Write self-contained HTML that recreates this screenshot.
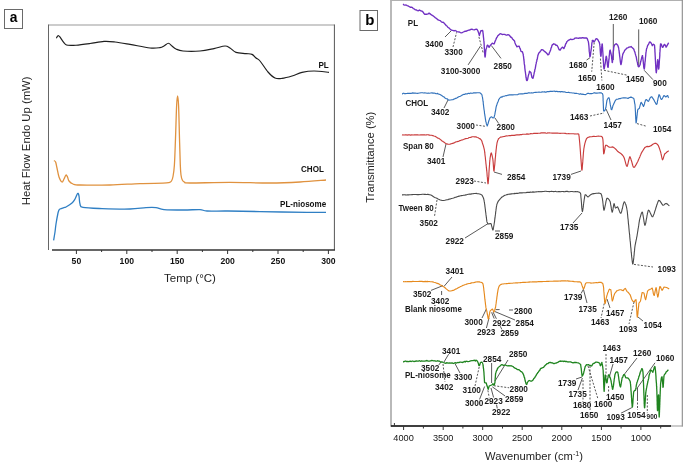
<!DOCTYPE html>
<html><head><meta charset="utf-8"><style>
html,body{margin:0;padding:0;background:#fff;width:685px;height:464px;overflow:hidden}
svg{display:block;font-family:"Liberation Sans", sans-serif;will-change:transform}
</style></head><body>
<svg width="685" height="464" viewBox="0 0 685 464">
<rect width="685" height="464" fill="#fff"/>
<rect x="4.5" y="9.5" width="18" height="19" fill="#fff" stroke="#6a6a6a" stroke-width="1"/>
<text x="13.5" y="22.4" font-size="13.8" font-weight="bold" text-anchor="middle" fill="#000">a</text>
<line x1="48.5" y1="25" x2="334.5" y2="25" stroke="#999" stroke-width="1.2"/><line x1="48.5" y1="24.5" x2="48.5" y2="250" stroke="#666" stroke-width="1"/><line x1="334.4" y1="24.5" x2="334.4" y2="250" stroke="#555" stroke-width="1"/>
<line x1="52" y1="250" x2="335" y2="250" stroke="#333" stroke-width="1.6"/>
<line x1="76.4" y1="250" x2="76.4" y2="254" stroke="#333" stroke-width="1"/>
<text transform="translate(76.4,264.2) scale(0.88,1)" font-size="9.8" font-weight="bold" text-anchor="middle" fill="#111">50</text>
<line x1="101.6" y1="250" x2="101.6" y2="252" stroke="#333" stroke-width="1"/>
<line x1="126.8" y1="250" x2="126.8" y2="254" stroke="#333" stroke-width="1"/>
<text transform="translate(126.8,264.2) scale(0.88,1)" font-size="9.8" font-weight="bold" text-anchor="middle" fill="#111">100</text>
<line x1="152.0" y1="250" x2="152.0" y2="252" stroke="#333" stroke-width="1"/>
<line x1="177.2" y1="250" x2="177.2" y2="254" stroke="#333" stroke-width="1"/>
<text transform="translate(177.2,264.2) scale(0.88,1)" font-size="9.8" font-weight="bold" text-anchor="middle" fill="#111">150</text>
<line x1="202.4" y1="250" x2="202.4" y2="252" stroke="#333" stroke-width="1"/>
<line x1="227.6" y1="250" x2="227.6" y2="254" stroke="#333" stroke-width="1"/>
<text transform="translate(227.6,264.2) scale(0.88,1)" font-size="9.8" font-weight="bold" text-anchor="middle" fill="#111">200</text>
<line x1="252.8" y1="250" x2="252.8" y2="252" stroke="#333" stroke-width="1"/>
<line x1="278.0" y1="250" x2="278.0" y2="254" stroke="#333" stroke-width="1"/>
<text transform="translate(278.0,264.2) scale(0.88,1)" font-size="9.8" font-weight="bold" text-anchor="middle" fill="#111">250</text>
<line x1="303.2" y1="250" x2="303.2" y2="252" stroke="#333" stroke-width="1"/>
<line x1="328.4" y1="250" x2="328.4" y2="254" stroke="#333" stroke-width="1"/>
<text transform="translate(328.4,264.2) scale(0.88,1)" font-size="9.8" font-weight="bold" text-anchor="middle" fill="#111">300</text>
<text x="190" y="282.2" font-size="11.5" text-anchor="middle" fill="#222">Temp (°C)</text>
<text transform="translate(30.2,140.8) rotate(-90)" font-size="11.3" text-anchor="middle" fill="#222">Heat Flow Endo Up (mW)</text>
<path d="M56.40,38.20 C56.57,37.88 57.03,36.72 57.40,36.30 C57.77,35.88 58.18,35.62 58.60,35.70 C59.02,35.78 59.35,36.10 59.90,36.80 C60.45,37.50 61.02,38.68 61.90,39.90 C62.78,41.12 64.18,43.20 65.20,44.10 C66.22,45.00 66.20,45.12 68.00,45.30 C69.80,45.48 72.33,45.50 76.00,45.20 C79.67,44.90 85.33,44.13 90.00,43.50 C94.67,42.87 99.83,41.65 104.00,41.40 C108.17,41.15 110.67,41.50 115.00,42.00 C119.33,42.50 124.17,43.40 130.00,44.40 C135.83,45.40 145.00,47.47 150.00,48.00 C155.00,48.53 157.67,47.93 160.00,47.60 C162.33,47.27 162.60,46.73 164.00,46.00 C165.40,45.27 167.07,43.20 168.40,43.20 C169.73,43.20 170.73,45.03 172.00,46.00 C173.27,46.97 174.17,48.17 176.00,49.00 C177.83,49.83 179.00,50.67 183.00,51.00 C187.00,51.33 194.83,51.40 200.00,51.00 C205.17,50.60 209.83,49.43 214.00,48.60 C218.17,47.77 222.33,46.10 225.00,46.00 C227.67,45.90 228.17,46.93 230.00,48.00 C231.83,49.07 233.33,51.47 236.00,52.40 C238.67,53.33 243.33,53.27 246.00,53.60 C248.67,53.93 250.33,53.67 252.00,54.40 C253.67,55.13 254.67,56.90 256.00,58.00 C257.33,59.10 258.00,58.67 260.00,61.00 C262.00,63.33 265.50,69.17 268.00,72.00 C270.50,74.83 272.67,76.93 275.00,78.00 C277.33,79.07 279.17,78.73 282.00,78.40 C284.83,78.07 288.67,77.00 292.00,76.00 C295.33,75.00 298.33,73.23 302.00,72.40 C305.67,71.57 309.50,71.00 314.00,71.00 C318.50,71.00 326.50,72.17 329.00,72.40" fill="none" stroke="#1e1e1e" stroke-width="1.15" stroke-linejoin="round"/>
<path d="M54.00,160.60 C54.27,160.83 55.10,160.77 55.60,162.00 C56.10,163.23 56.43,165.50 57.00,168.00 C57.57,170.50 58.17,174.67 59.00,177.00 C59.83,179.33 61.17,181.67 62.00,182.00 C62.83,182.33 63.33,180.17 64.00,179.00 C64.67,177.83 65.42,175.33 66.00,175.00 C66.58,174.67 67.00,176.00 67.50,177.00 C68.00,178.00 68.08,179.83 69.00,181.00 C69.92,182.17 71.17,183.33 73.00,184.00 C74.83,184.67 73.83,184.83 80.00,185.00 C86.17,185.17 100.00,185.23 110.00,185.00 C120.00,184.77 131.17,183.90 140.00,183.60 C148.83,183.30 158.17,183.37 163.00,183.20 C167.83,183.03 167.58,182.97 169.00,182.60 C170.42,182.23 170.83,182.02 171.50,181.00 C172.17,179.98 172.52,179.17 173.00,176.50 C173.48,173.83 173.98,171.33 174.40,165.00 C174.82,158.67 175.13,148.33 175.50,138.50 C175.87,128.67 176.25,113.08 176.60,106.00 C176.95,98.92 177.27,96.00 177.60,96.00 C177.93,96.00 178.28,98.92 178.60,106.00 C178.92,113.08 179.22,128.67 179.50,138.50 C179.78,148.33 180.05,158.92 180.30,165.00 C180.55,171.08 180.67,172.50 181.00,175.00 C181.33,177.50 181.72,178.80 182.30,180.00 C182.88,181.20 183.22,181.70 184.50,182.20 C185.78,182.70 182.42,182.97 190.00,183.00 C197.58,183.03 216.67,182.40 230.00,182.40 C243.33,182.40 258.33,183.07 270.00,183.00 C281.67,182.93 290.67,182.50 300.00,182.00 C309.33,181.50 321.67,180.33 326.00,180.00" fill="none" stroke="#e0923f" stroke-width="1.3" stroke-linejoin="round"/>
<path d="M53.60,240.40 C53.83,239.00 54.60,234.73 55.00,232.00 C55.40,229.27 55.50,227.17 56.00,224.00 C56.50,220.83 57.50,215.33 58.00,213.00 C58.50,210.67 58.67,210.67 59.00,210.00 C59.33,209.33 59.17,209.40 60.00,209.00 C60.83,208.60 63.00,207.93 64.00,207.60 C65.00,207.27 64.67,207.77 66.00,207.00 C67.33,206.23 70.50,204.33 72.00,203.00 C73.50,201.67 74.07,200.60 75.00,199.00 C75.93,197.40 76.93,193.90 77.60,193.40 C78.27,192.90 78.60,194.23 79.00,196.00 C79.40,197.77 79.33,202.10 80.00,204.00 C80.67,205.90 79.33,206.63 83.00,207.40 C86.67,208.17 94.17,208.33 102.00,208.60 C109.83,208.87 122.67,209.17 130.00,209.00 C137.33,208.83 141.67,207.83 146.00,207.60 C150.33,207.37 153.00,207.27 156.00,207.60 C159.00,207.93 159.33,209.20 164.00,209.60 C168.67,210.00 178.00,210.00 184.00,210.00 C190.00,210.00 196.17,209.43 200.00,209.60 C203.83,209.77 202.33,210.77 207.00,211.00 C211.67,211.23 219.17,210.90 228.00,211.00 C236.83,211.10 246.83,211.37 260.00,211.60 C273.17,211.83 296.00,212.27 307.00,212.40 C318.00,212.53 322.83,212.40 326.00,212.40" fill="none" stroke="#2f7fc4" stroke-width="1.3" stroke-linejoin="round"/>
<text transform="translate(318.4,67.6) scale(0.92,1)" font-size="8.8" font-weight="bold" fill="#111">PL</text>
<text transform="translate(301,172) scale(0.92,1)" font-size="8.8" font-weight="bold" fill="#111">CHOL</text>
<text transform="translate(280,207.4) scale(0.92,1)" font-size="8.8" font-weight="bold" fill="#111">PL-niosome</text>
<rect x="360" y="10.5" width="17.5" height="20" fill="#fff" stroke="#6a6a6a" stroke-width="1"/>
<text x="369.8" y="25.4" font-size="15" font-weight="bold" text-anchor="middle" fill="#000">b</text>
<line x1="391" y1="0" x2="391" y2="426.5" stroke="#a8a8a8" stroke-width="1.6"/><line x1="390.5" y1="0.5" x2="682.5" y2="0.5" stroke="#b0b0b0" stroke-width="1.2"/><line x1="682.3" y1="0" x2="682.3" y2="426.5" stroke="#8a8a8a" stroke-width="1.1"/><line x1="390.5" y1="426" x2="682.8" y2="426" stroke="#999" stroke-width="1.2"/>
<line x1="391" y1="426" x2="671" y2="426" stroke="#111" stroke-width="1.6"/>
<line x1="403.6" y1="426" x2="403.6" y2="430" stroke="#333" stroke-width="1"/>
<text transform="translate(403.6,441) scale(0.93,1)" font-size="9.9" text-anchor="middle" fill="#151515">4000</text>
<line x1="423.4" y1="426" x2="423.4" y2="428.5" stroke="#333" stroke-width="1"/>
<line x1="443.2" y1="426" x2="443.2" y2="430" stroke="#333" stroke-width="1"/>
<text transform="translate(443.2,441) scale(0.93,1)" font-size="9.9" text-anchor="middle" fill="#151515">3500</text>
<line x1="462.9" y1="426" x2="462.9" y2="428.5" stroke="#333" stroke-width="1"/>
<line x1="482.7" y1="426" x2="482.7" y2="430" stroke="#333" stroke-width="1"/>
<text transform="translate(482.7,441) scale(0.93,1)" font-size="9.9" text-anchor="middle" fill="#151515">3000</text>
<line x1="502.5" y1="426" x2="502.5" y2="428.5" stroke="#333" stroke-width="1"/>
<line x1="522.2" y1="426" x2="522.2" y2="430" stroke="#333" stroke-width="1"/>
<text transform="translate(522.2,441) scale(0.93,1)" font-size="9.9" text-anchor="middle" fill="#151515">2500</text>
<line x1="542.0" y1="426" x2="542.0" y2="428.5" stroke="#333" stroke-width="1"/>
<line x1="561.8" y1="426" x2="561.8" y2="430" stroke="#333" stroke-width="1"/>
<text transform="translate(561.8,441) scale(0.93,1)" font-size="9.9" text-anchor="middle" fill="#151515">2000</text>
<line x1="581.6" y1="426" x2="581.6" y2="428.5" stroke="#333" stroke-width="1"/>
<line x1="601.4" y1="426" x2="601.4" y2="430" stroke="#333" stroke-width="1"/>
<text transform="translate(601.4,441) scale(0.93,1)" font-size="9.9" text-anchor="middle" fill="#151515">1500</text>
<line x1="621.1" y1="426" x2="621.1" y2="428.5" stroke="#333" stroke-width="1"/>
<line x1="640.9" y1="426" x2="640.9" y2="430" stroke="#333" stroke-width="1"/>
<text transform="translate(640.9,441) scale(0.93,1)" font-size="9.9" text-anchor="middle" fill="#151515">1000</text>
<line x1="660.7" y1="426" x2="660.7" y2="428.5" stroke="#333" stroke-width="1"/>
<line x1="394.4" y1="423" x2="394.4" y2="426" stroke="#333" stroke-width="1"/>
<text x="534" y="459.5" font-size="11.2" text-anchor="middle" fill="#222">Wavenumber (cm<tspan font-size="7" dy="-4">-1</tspan><tspan dy="4">)</tspan></text>
<text transform="translate(374,157.2) rotate(-90)" font-size="11.2" text-anchor="middle" fill="#222">Transmittance (%)</text>
<g stroke="#3c3c3c" stroke-width="0.85" fill="none"><line x1="445" y1="37" x2="451" y2="31"/><line x1="468.1" y1="64.9" x2="480.5" y2="46"/><line x1="501" y1="58.4" x2="491.3" y2="45.5"/><line x1="586.6" y1="60" x2="589.9" y2="57.8"/><line x1="613.3" y1="24" x2="613.3" y2="60"/><line x1="638.7" y1="29.4" x2="638.7" y2="67.3"/><line x1="644.2" y1="70.3" x2="653" y2="79.7"/><line x1="444" y1="108" x2="448" y2="100"/><line x1="495" y1="118" x2="499" y2="124"/><line x1="606" y1="109" x2="611" y2="120"/><line x1="443" y1="157" x2="446" y2="144"/><line x1="494" y1="172" x2="502" y2="174.4"/><line x1="571" y1="174.4" x2="581" y2="171"/><line x1="465" y1="238" x2="488" y2="223.6"/><line x1="495" y1="231" x2="500" y2="231"/><line x1="573" y1="223" x2="582" y2="213"/><line x1="452" y1="277" x2="444" y2="286.4"/><line x1="431" y1="290.4" x2="443" y2="285.6"/><line x1="441.6" y1="291" x2="441.6" y2="295"/><line x1="482" y1="318" x2="486.4" y2="309"/><line x1="491.6" y1="312.4" x2="494.2" y2="318.6"/><line x1="495" y1="311.6" x2="515" y2="320"/><line x1="486.4" y1="328" x2="489" y2="318"/><line x1="493" y1="312" x2="496.4" y2="318.8"/><line x1="499.9" y1="325.6" x2="502" y2="329.6"/><line x1="495.6" y1="309.6" x2="499.6" y2="309.6"/><line x1="509" y1="310" x2="513" y2="310"/><line x1="581" y1="293.6" x2="583.6" y2="289"/><line x1="583.6" y1="290" x2="587" y2="303"/><line x1="607" y1="299" x2="610" y2="308"/><line x1="638" y1="317" x2="643" y2="321"/><line x1="449" y1="353.6" x2="444" y2="362"/><line x1="438" y1="366" x2="441" y2="362"/><line x1="455" y1="363.6" x2="460" y2="373"/><line x1="479.5" y1="399.5" x2="484.6" y2="386.5"/><line x1="491.6" y1="363" x2="491.6" y2="383"/><line x1="495" y1="381" x2="508" y2="360"/><line x1="491" y1="388" x2="493.6" y2="397.5"/><line x1="496.4" y1="404.2" x2="497.3" y2="408.5"/><line x1="492.3" y1="386.8" x2="505.1" y2="396"/><line x1="576" y1="379" x2="582" y2="377"/><line x1="582.4" y1="378" x2="578" y2="390"/><line x1="613" y1="364" x2="609" y2="378"/><line x1="637" y1="358" x2="623" y2="376"/><line x1="655" y1="362.8" x2="636.8" y2="388.7"/><line x1="621" y1="413.2" x2="631.9" y2="407.6"/><line x1="637.5" y1="388" x2="637.5" y2="399"/></g><g stroke="#444" stroke-width="0.9" stroke-dasharray="2,1.5" fill="none"><line x1="453" y1="47" x2="456.6" y2="32.4"/><line x1="478.9" y1="36.9" x2="483.2" y2="53"/><line x1="594.2" y1="42.5" x2="591.7" y2="71.7"/><line x1="600.4" y1="58.6" x2="601.9" y2="80.5"/><line x1="604" y1="70.3" x2="628.2" y2="75.4"/><line x1="476" y1="125" x2="486" y2="126.4"/><line x1="590" y1="116" x2="604" y2="113"/><line x1="637" y1="123.6" x2="647" y2="126.4"/><line x1="474" y1="181" x2="486" y2="183"/><line x1="437" y1="200" x2="434.4" y2="217"/><line x1="634" y1="264.4" x2="653" y2="267"/><line x1="605" y1="300" x2="601" y2="318"/><line x1="634" y1="302" x2="629" y2="324"/><line x1="443" y1="364" x2="445" y2="382"/><line x1="475" y1="386" x2="479.4" y2="366"/><line x1="493.8" y1="385.7" x2="509.2" y2="387.8"/><line x1="487.9" y1="390.3" x2="489.2" y2="397.6"/><line x1="583" y1="380" x2="583" y2="402"/><line x1="590" y1="366" x2="590" y2="411"/><line x1="588" y1="366" x2="598" y2="399"/><line x1="606" y1="354" x2="606" y2="378"/><line x1="608.6" y1="386" x2="608.6" y2="393.6"/><line x1="637.5" y1="399" x2="637.5" y2="410"/><line x1="647.3" y1="395" x2="647.3" y2="413.2"/></g>
<path d="M403.1,4.0 L403.8,4.8 L404.9,5.1 L406.1,5.0 L407.2,5.6 L408.0,5.9 L409.0,6.5 L410.2,7.2 L411.5,7.2 L412.5,7.6 L413.3,8.7 L414.3,8.9 L415.5,9.9 L416.6,9.9 L417.4,10.7 L418.4,10.8 L419.4,10.0 L420.4,10.6 L421.1,11.0 L422.0,11.1 L423.0,12.0 L423.9,13.3 L424.5,14.2 L425.9,14.2 L427.1,14.2 L428.1,13.9 L429.1,13.1 L429.8,13.6 L430.8,14.4 L431.9,15.2 L432.7,15.6 L433.3,16.0 L434.2,16.7 L435.1,17.6 L436.0,18.1 L436.8,18.5 L437.4,19.6 L438.3,19.8 L439.2,20.4 L440.3,20.6 L441.4,21.9 L442.4,22.3 L443.2,22.2 L443.9,22.8 L444.6,23.8 L445.4,24.5 L446.2,25.6 L447.0,26.0 L447.8,27.2 L448.5,27.8 L449.0,27.9 L450.0,29.0 L451.1,29.9 L452.1,30.4 L452.9,30.4 L454.1,30.8 L455.2,30.5 L456.2,31.0 L457.0,31.7 L458.1,31.8 L459.4,32.0 L460.5,32.6 L461.3,32.9 L462.2,32.7 L463.3,32.0 L464.4,31.5 L465.4,31.2 L466.3,31.2 L467.4,30.6 L468.7,30.2 L469.9,30.0 L470.8,29.4 L471.8,29.2 L473.0,29.7 L474.3,29.8 L475.4,29.3 L476.2,29.2 L477.1,29.5 L477.8,30.7 L478.3,31.9 L478.7,33.0 L479.1,34.5 L479.4,35.5 L479.7,34.3 L480.0,33.2 L480.4,32.2 L480.7,31.0 L482.6,30.4 L482.7,30.7 L482.9,31.7 L483.0,33.1 L483.1,33.4 L483.3,35.3 L483.4,36.7 L483.6,38.1 L483.7,39.2 L483.8,40.4 L483.9,41.2 L484.0,41.9 L484.0,42.7 L484.1,43.4 L484.2,45.2 L484.2,46.2 L484.3,47.1 L484.4,48.7 L484.5,50.0 L484.5,51.2 L484.6,52.5 L484.7,53.8 L484.8,54.9 L484.8,55.8 L484.9,56.4 L485.0,56.6 L485.0,57.1 L485.1,57.0 L485.2,56.6 L485.4,55.5 L485.5,53.9 L485.6,52.3 L485.8,51.0 L485.9,49.6 L486.2,48.9 L486.7,47.4 L487.1,45.7 L487.5,45.1 L488.2,45.8 L489.1,47.3 L489.8,46.2 L490.7,44.9 L491.6,44.1 L492.3,43.2 L493.9,44.0 L494.2,43.6 L494.5,43.1 L494.9,41.7 L495.4,40.6 L495.8,39.8 L496.3,38.6 L496.6,37.7 L497.1,37.1 L497.8,35.7 L498.6,35.1 L499.3,34.4 L500.0,33.8 L500.9,33.7 L502.1,34.5 L503.5,34.4 L504.7,34.4 L505.6,34.9 L506.8,35.2 L508.0,34.6 L509.1,35.1 L509.7,35.7 L510.6,37.0 L511.6,37.4 L512.5,38.9 L513.4,39.8 L514.0,40.4 L514.5,41.0 L515.0,42.9 L515.5,44.1 L516.0,45.1 L516.5,45.8 L516.8,46.8 L517.9,46.3 L518.9,46.1 L519.3,46.5 L519.7,47.8 L520.2,48.6 L520.6,50.0 L521.0,51.4 L521.6,51.7 L522.4,51.6 L523.1,54.1 L523.2,54.1 L523.3,55.3 L523.4,55.9 L523.5,56.4 L523.6,57.3 L523.7,58.1 L523.9,60.0 L524.0,60.5 L524.2,62.5 L524.3,63.9 L524.5,64.9 L524.7,65.9 L524.8,68.0 L525.0,69.4 L525.1,70.5 L525.3,71.7 L525.5,72.8 L525.6,74.0 L525.8,75.1 L525.9,76.5 L526.0,77.3 L526.2,78.0 L526.3,78.6 L526.4,79.8 L526.5,79.9 L526.6,80.4 L526.9,80.5 L527.2,80.5 L527.6,79.5 L528.0,77.3 L528.3,75.9 L528.7,74.4 L529.0,73.5 L529.3,72.2 L529.5,71.2 L530.9,72.4 L531.2,73.9 L531.6,75.8 L532.0,77.6 L532.5,78.1 L533.0,78.3 L533.1,77.8 L533.3,77.1 L533.4,76.9 L533.6,75.4 L533.8,74.9 L534.1,73.3 L534.3,72.2 L534.6,71.7 L534.8,69.8 L535.1,69.0 L535.4,67.6 L535.6,66.4 L535.9,64.7 L536.2,63.4 L536.4,62.1 L536.7,61.4 L536.9,60.0 L537.2,59.3 L537.4,58.3 L537.6,56.8 L537.7,56.5 L537.9,55.5 L538.4,54.1 L539.0,52.8 L539.6,52.4 L540.3,51.3 L540.9,50.6 L541.5,49.6 L542.1,49.6 L542.7,49.9 L543.4,50.2 L544.3,51.2 L545.2,51.9 L546.2,52.7 L547.1,53.7 L547.8,54.8 L548.4,54.6 L548.8,54.5 L549.2,53.3 L549.7,52.1 L550.1,51.3 L550.6,50.0 L551.1,47.9 L551.5,47.3 L551.9,45.6 L552.3,44.8 L552.6,44.9 L553.6,43.8 L554.8,44.1 L555.9,45.2 L556.8,45.2 L557.3,45.7 L558.0,47.0 L558.6,48.4 L559.1,49.9 L559.6,49.8 L560.2,50.1 L561.1,48.5 L561.8,47.8 L562.4,47.1 L563.1,47.7 L563.8,48.6 L564.1,48.3 L564.4,47.1 L564.9,46.5 L565.4,44.7 L565.9,43.4 L566.4,43.1 L566.9,41.5 L567.3,41.2 L568.2,40.4 L569.4,39.8 L570.7,39.2 L571.9,39.6 L572.9,39.4 L573.8,39.2 L575.0,38.1 L576.2,38.0 L577.4,38.1 L578.5,38.3 L579.3,37.9 L580.3,38.0 L581.5,38.0 L582.7,37.7 L583.9,38.0 L585.1,37.9 L586.0,38.0 L586.6,38.0 L587.3,38.8 L587.8,40.3 L588.2,41.0 L588.5,42.6 L588.6,43.2 L588.7,44.3 L588.8,44.9 L588.9,46.0 L589.0,47.3 L589.1,48.6 L589.2,50.5 L589.3,51.9 L589.5,52.7 L589.6,53.9 L589.7,55.2 L589.8,56.1 L589.8,56.7 L589.9,56.8 L590.1,56.6 L590.3,56.1 L590.5,54.7 L590.6,53.7 L590.8,51.8 L591.0,50.6 L591.1,50.4 L591.2,49.1 L591.4,48.3 L591.5,46.7 L591.7,45.6 L591.8,43.7 L592.0,42.7 L592.2,41.9 L592.3,40.4 L592.4,40.7 L593.1,40.4 L593.9,42.0 L594.5,41.5 L595.3,40.0 L596.0,38.7 L597.1,39.0 L598.2,40.3 L598.7,41.5 L599.3,42.2 L599.7,44.4 L599.8,44.3 L599.9,45.9 L600.0,46.3 L600.1,47.9 L600.2,49.8 L600.3,51.2 L600.4,52.7 L600.5,53.9 L600.6,54.9 L600.7,55.8 L600.8,55.9 L600.9,56.3 L601.0,55.8 L601.1,55.6 L601.2,54.4 L601.3,52.6 L601.4,50.9 L601.5,50.1 L601.6,48.3 L601.8,46.6 L601.9,45.4 L602.0,44.7 L602.1,43.9 L602.2,43.9 L602.2,44.1 L602.3,44.5 L602.4,45.0 L602.4,46.4 L602.5,47.1 L602.6,48.3 L602.6,49.1 L602.7,50.6 L602.8,51.8 L602.9,53.2 L603.0,54.7 L603.1,56.7 L603.1,57.8 L603.2,59.2 L603.3,60.8 L603.4,61.8 L603.5,62.9 L603.6,64.5 L603.6,65.6 L603.7,66.7 L603.8,67.3 L603.9,68.2 L603.9,68.7 L604.0,68.6 L604.1,68.9 L604.3,68.4 L604.5,67.2 L604.7,66.2 L604.9,64.9 L605.2,63.6 L605.4,62.0 L605.6,59.8 L605.8,58.7 L606.0,57.1 L606.2,56.3 L606.3,56.4 L606.4,57.0 L606.6,57.0 L606.7,58.7 L606.9,60.1 L607.1,61.1 L607.3,63.0 L607.4,64.6 L607.6,65.5 L607.7,66.8 L607.9,67.4 L608.0,67.4 L608.1,67.3 L608.2,66.8 L608.3,66.0 L608.4,64.6 L608.5,63.1 L608.7,61.8 L608.8,60.4 L609.0,59.2 L609.1,57.9 L609.2,55.8 L609.4,55.0 L609.5,53.8 L609.6,52.4 L609.7,51.6 L609.8,50.6 L609.9,50.7 L610.2,50.0 L610.5,51.8 L610.9,53.2 L611.2,54.6 L611.4,55.5 L611.6,57.1 L611.7,58.6 L611.9,59.5 L612.1,61.5 L612.2,62.5 L612.4,62.3 L612.5,62.0 L612.5,61.2 L612.6,60.8 L612.7,59.8 L612.8,58.1 L612.9,57.3 L613.0,55.6 L613.1,54.0 L613.2,52.8 L613.4,51.2 L613.5,50.7 L613.6,49.6 L613.7,47.9 L613.8,47.5 L613.9,46.8 L614.7,44.8 L615.7,44.0 L616.5,43.8 L617.0,44.7 L617.6,44.9 L618.2,46.5 L618.7,48.3 L618.8,48.5 L618.9,49.9 L619.1,50.8 L619.2,52.1 L619.3,52.8 L619.5,54.2 L619.6,55.7 L619.8,56.9 L620.0,58.5 L620.1,59.5 L620.3,61.1 L620.4,62.2 L620.6,63.2 L620.7,64.1 L620.8,64.2 L620.9,64.4 L621.0,64.6 L621.2,64.1 L621.4,63.0 L621.6,61.8 L621.8,60.4 L622.0,58.8 L622.2,58.0 L622.4,56.1 L622.6,55.4 L622.8,54.2 L623.0,53.9 L623.4,52.8 L624.1,51.9 L624.7,50.2 L625.5,49.6 L626.1,49.0 L626.7,48.2 L627.7,47.8 L628.9,47.2 L630.2,47.0 L631.1,46.5 L631.8,47.2 L632.6,47.9 L633.4,48.7 L634.0,49.7 L634.3,50.7 L634.6,51.6 L635.0,52.5 L635.3,53.9 L635.6,54.9 L635.9,55.9 L636.2,56.7 L636.4,57.7 L636.6,59.1 L636.9,60.6 L637.2,61.9 L637.5,62.9 L637.7,64.6 L638.0,65.2 L638.2,66.4 L638.4,66.5 L639.2,66.5 L640.1,64.8 L640.3,63.6 L640.5,62.4 L640.8,61.6 L641.1,60.1 L641.5,58.6 L641.8,57.0 L642.1,56.3 L642.3,55.8 L642.5,55.6 L642.6,56.4 L642.7,56.8 L642.9,58.0 L643.0,59.4 L643.1,60.7 L643.3,61.9 L643.4,63.7 L643.6,65.0 L643.7,66.4 L643.8,67.5 L644.0,68.1 L644.1,68.8 L644.2,68.9 L644.3,69.0 L644.4,68.4 L644.5,67.8 L644.6,66.9 L644.7,66.0 L644.8,64.7 L644.9,63.3 L645.0,62.0 L645.2,61.1 L645.3,59.9 L645.4,58.2 L645.6,56.5 L645.7,55.8 L645.8,54.3 L645.9,53.1 L646.1,51.7 L646.2,51.2 L646.3,50.6 L646.4,49.7 L646.7,48.4 L647.1,47.4 L647.6,45.6 L648.1,44.8 L648.6,44.1 L649.1,43.0 L649.5,42.1 L649.8,42.0 L650.4,42.2 L651.1,43.0 L651.8,44.3 L652.3,45.7 L653.4,44.2 L654.5,45.0 L654.6,46.1 L654.6,46.4 L654.7,47.0 L654.7,47.9 L654.8,49.1 L654.9,49.6 L654.9,51.1 L655.0,52.4 L655.1,53.7 L655.1,54.5 L655.2,56.1 L655.3,57.2 L655.3,58.8 L655.4,59.8 L655.5,61.7 L655.6,63.1 L655.6,63.9 L655.7,65.1 L655.8,66.9 L655.8,67.8 L655.9,69.0 L655.9,69.2 L656.0,70.8 L656.1,71.2 L656.1,71.5 L656.2,72.1 L656.2,72.6 L656.3,72.8 L656.4,71.8 L656.5,71.4 L656.7,69.7 L656.8,69.0 L657.0,66.9 L657.1,65.7 L657.3,64.0 L657.4,62.4 L657.5,61.0 L657.6,60.4 L657.7,59.7 L657.8,60.0 L658.0,61.7 L658.1,63.0 L658.2,65.2 L658.4,66.5 L658.5,68.3 L658.7,69.1 L658.8,68.6 L658.8,68.1 L658.9,67.9 L659.0,67.3 L659.0,66.1 L659.1,65.3 L659.2,64.1 L659.2,63.4 L659.3,62.4 L659.4,60.5 L659.5,59.0 L659.6,58.2 L659.7,56.9 L659.8,55.6 L659.8,53.9 L659.9,52.3 L660.0,51.4 L660.1,49.5 L660.2,48.8 L660.3,47.2 L660.3,46.5 L660.4,45.7 L660.5,44.9 L660.5,44.1 L660.6,43.8 L661.0,43.8 L661.5,44.8 L662.1,46.8 L662.5,47.3 L663.0,47.2 L663.6,45.7 L664.2,44.7 L664.7,44.4 L665.1,45.2 L665.6,45.8 L666.1,47.2 L666.5,46.7 L667.2,45.3 L667.9,44.1 L668.4,43.2 L668.8,42.9" fill="none" stroke="#7030c2" stroke-width="1.35" stroke-linejoin="round"/>
<path d="M402.0,93.9 L402.4,93.9 L403.0,93.3 L403.8,93.2 L404.6,93.7 L405.6,93.6 L406.7,93.5 L407.8,93.2 L409.0,93.4 L410.2,93.3 L411.5,93.3 L412.7,92.9 L413.9,93.1 L415.1,93.0 L416.3,93.2 L417.4,93.4 L418.3,93.3 L419.2,93.0 L420.0,93.0 L420.8,92.8 L421.6,92.7 L422.6,92.7 L423.6,93.0 L424.8,92.9 L425.9,93.0 L427.1,93.3 L428.3,93.1 L429.5,93.2 L430.7,93.0 L431.9,92.9 L433.0,93.1 L434.1,93.0 L435.1,93.3 L436.0,93.7 L436.8,93.6 L437.5,93.3 L438.0,93.9 L439.3,94.2 L440.5,94.7 L441.6,95.5 L442.5,96.1 L443.3,96.7 L444.0,96.9 L444.9,97.9 L446.0,98.6 L447.1,98.8 L448.2,99.8 L449.0,100.2 L449.8,100.0 L450.8,100.0 L451.8,99.7 L452.9,99.7 L454.0,99.0 L454.6,99.0 L455.3,98.3 L456.2,98.3 L457.2,97.8 L458.3,97.0 L459.3,96.5 L460.4,96.2 L461.5,95.6 L462.4,95.0 L463.3,94.5 L464.0,94.3 L464.9,94.3 L465.9,93.7 L467.1,94.0 L468.3,93.3 L469.5,93.6 L470.7,93.0 L471.8,93.3 L472.8,93.1 L473.6,92.9 L474.6,92.9 L475.9,92.9 L477.2,92.8 L478.5,92.7 L479.8,92.8 L480.8,93.4 L481.5,94.3 L481.8,94.6 L482.0,95.0 L482.2,96.4 L482.5,97.4 L482.7,98.8 L482.8,99.5 L483.0,101.2 L483.2,102.1 L483.3,103.8 L483.4,104.7 L483.6,105.8 L483.7,107.2 L483.8,107.4 L483.9,108.6 L484.1,109.8 L484.2,110.5 L484.4,111.6 L484.5,113.3 L484.7,114.2 L484.9,115.6 L485.0,116.2 L485.2,117.4 L485.3,118.1 L485.4,119.1 L485.6,119.7 L485.8,121.6 L486.1,122.2 L486.4,123.9 L486.7,124.5 L487.0,125.4 L487.2,126.0 L487.5,125.2 L487.8,124.4 L488.1,123.6 L488.5,122.0 L488.9,120.5 L489.2,120.1 L489.5,118.8 L490.2,117.6 L491.0,117.0 L491.7,116.8 L492.8,117.9 L494.0,117.6 L494.2,117.3 L494.3,116.3 L494.5,115.6 L494.8,114.7 L495.0,113.4 L495.2,112.2 L495.5,110.8 L495.7,109.6 L495.9,108.4 L496.1,107.2 L496.3,106.3 L496.6,105.6 L497.0,104.3 L497.4,102.9 L497.9,101.9 L498.3,101.0 L498.8,99.4 L499.3,98.9 L499.7,98.1 L500.3,97.6 L501.1,96.9 L502.1,97.1 L503.1,96.3 L504.2,96.2 L505.4,95.8 L506.0,95.5 L506.7,95.7 L507.5,95.3 L508.5,95.1 L509.5,94.9 L510.6,94.9 L511.7,94.7 L512.9,94.9 L514.1,94.7 L515.3,94.8 L516.6,94.7 L517.8,94.6 L518.9,93.9 L520.0,94.0 L520.6,93.8 L521.3,93.9 L522.0,93.9 L522.9,93.9 L523.8,93.8 L524.8,93.4 L525.8,93.4 L526.9,93.4 L528.0,92.9 L529.2,92.8 L530.4,93.0 L531.6,92.7 L532.9,93.0 L534.1,92.5 L535.4,92.3 L536.6,92.3 L537.8,92.2 L539.0,92.1 L540.2,92.2 L541.3,92.1 L542.4,91.9 L543.4,92.0 L544.3,91.7 L545.2,92.1 L546.1,92.1 L546.8,91.8 L547.4,91.6 L548.0,91.6 L549.1,91.6 L550.2,91.2 L551.3,91.4 L552.3,91.4 L553.2,91.2 L554.2,91.1 L555.1,91.6 L556.1,91.3 L557.0,91.4 L558.0,91.8 L559.0,91.6 L560.0,91.5 L560.6,92.0 L561.3,91.6 L562.1,91.5 L563.0,92.0 L564.0,91.7 L565.1,92.0 L566.2,92.5 L567.4,92.5 L568.6,92.2 L569.8,92.7 L571.1,92.8 L572.4,93.0 L573.6,93.0 L574.9,93.4 L576.1,93.2 L577.3,93.5 L578.4,93.7 L579.5,94.2 L580.5,93.7 L581.4,94.3 L582.2,94.0 L582.9,94.4 L583.5,94.3 L584.0,94.4 L585.7,94.6 L586.4,94.1 L587.0,93.6 L588.0,93.3 L588.6,93.3 L589.5,93.7 L590.5,93.5 L591.7,93.6 L593.0,93.3 L594.3,92.7 L595.7,93.1 L597.0,93.1 L598.3,93.0 L599.5,92.8 L600.5,92.8 L601.3,92.9 L601.8,93.3 L602.4,93.5 L602.8,94.6 L603.0,95.7 L603.0,97.3 L603.1,98.5 L603.1,99.8 L603.1,100.7 L603.2,101.1 L603.2,102.1 L603.3,103.6 L603.3,104.7 L603.4,106.2 L603.4,107.8 L603.5,109.2 L603.5,110.0 L603.6,111.0 L603.7,110.9 L604.3,111.0 L605.1,110.2 L605.7,108.1 L605.9,107.5 L606.1,106.1 L606.3,104.8 L606.4,104.0 L606.6,102.7 L606.8,101.4 L607.0,100.2 L607.6,99.0 L608.4,97.7 L609.0,97.7 L609.2,98.3 L609.5,99.3 L609.7,100.9 L609.9,102.0 L610.1,103.4 L610.3,104.7 L610.5,105.8 L610.8,106.8 L611.0,108.4 L611.3,109.5 L611.5,109.6 L611.8,109.7 L612.2,108.3 L612.6,107.0 L613.0,105.4 L613.4,104.7 L613.8,103.7 L614.4,102.4 L615.1,100.9 L615.7,100.1 L616.3,99.2 L617.1,99.2 L618.2,99.1 L619.3,98.5 L620.2,98.6 L621.1,98.3 L622.2,98.0 L623.2,97.9 L624.1,97.9 L625.3,97.9 L626.8,98.0 L628.0,98.5 L629.0,97.7 L630.0,97.4 L630.9,97.1 L631.8,97.4 L633.0,98.0 L633.8,98.4 L634.0,99.3 L634.2,100.0 L634.4,101.3 L634.6,102.8 L634.8,103.8 L635.0,104.7 L635.1,106.3 L635.2,107.1 L635.2,108.1 L635.3,108.9 L635.3,110.2 L635.4,110.9 L635.5,113.0 L635.5,114.2 L635.6,115.5 L635.7,117.1 L635.7,118.4 L635.8,119.1 L635.9,120.6 L635.9,121.5 L636.0,121.9 L636.0,122.7 L636.1,122.9 L636.2,122.5 L636.3,122.4 L636.4,121.0 L636.6,120.2 L636.7,118.7 L636.9,117.1 L637.0,115.8 L637.2,114.3 L637.3,112.7 L637.5,112.1 L637.6,110.5 L637.7,109.9 L638.4,108.9 L639.2,108.5 L639.5,107.7 L639.8,106.6 L640.2,105.1 L640.5,104.0 L640.9,102.8 L641.2,102.3 L641.7,103.0 L642.3,104.1 L643.0,105.5 L643.5,106.5 L643.8,105.6 L644.1,105.1 L644.5,103.9 L644.8,102.2 L645.2,101.2 L645.5,100.2 L645.8,99.8 L646.6,99.6 L647.5,100.8 L648.3,101.4 L648.8,100.8 L649.4,99.5 L650.1,97.9 L650.7,97.2 L651.2,96.9 L651.9,96.9 L652.7,98.2 L653.6,99.4 L654.2,100.5 L654.8,101.8 L655.5,102.9 L656.2,104.3 L656.7,104.4 L656.9,103.9 L657.2,103.3 L657.4,101.4 L657.7,100.5 L658.0,98.6 L658.3,97.4 L658.6,96.3 L658.8,95.3 L659.0,94.6 L659.4,95.2 L659.9,95.8 L660.4,97.7 L660.9,98.8 L661.3,99.5 L661.9,99.2 L662.6,98.0 L663.4,96.5 L663.9,95.6 L664.9,96.1 L665.8,97.0 L666.8,96.1 L667.7,95.5 L668.3,97.2 L668.7,97.9" fill="none" stroke="#3272bb" stroke-width="1.15" stroke-linejoin="round"/>
<path d="M402.0,134.9 L402.4,135.0 L403.0,134.9 L403.6,135.0 L404.4,135.0 L405.2,134.8 L406.1,134.8 L407.2,135.1 L408.2,134.8 L409.4,134.8 L410.6,135.1 L411.8,134.9 L413.1,135.0 L414.4,134.9 L415.6,134.9 L417.0,134.7 L418.2,134.9 L419.5,135.0 L420.8,134.9 L422.0,134.9 L423.2,134.9 L424.3,134.7 L425.4,135.0 L426.4,134.9 L427.3,134.8 L428.1,134.7 L428.9,135.1 L429.5,135.0 L430.0,135.1 L431.5,135.3 L432.8,135.6 L433.9,136.0 L434.9,136.2 L435.8,136.8 L436.6,137.1 L437.3,137.8 L438.0,138.2 L438.7,138.3 L439.6,138.9 L440.6,139.6 L441.6,140.7 L442.7,141.3 L443.7,142.1 L444.6,142.6 L445.4,143.3 L446.0,143.6 L447.0,143.9 L447.9,144.2 L448.9,144.2 L450.0,144.2 L450.6,143.9 L451.4,143.8 L452.4,143.4 L453.4,143.1 L454.6,142.6 L455.8,141.9 L456.9,141.8 L458.1,141.4 L459.1,141.1 L460.0,140.6 L460.7,140.5 L461.5,140.0 L462.4,139.9 L463.5,139.5 L464.6,139.0 L465.7,138.6 L466.9,138.5 L468.1,138.2 L469.2,137.5 L470.3,137.5 L471.3,137.1 L472.2,136.8 L473.0,136.7 L473.6,136.8 L474.7,136.9 L475.9,136.8 L477.2,137.5 L478.3,137.8 L479.4,138.6 L480.3,138.9 L480.9,139.6 L481.6,140.5 L482.0,141.5 L482.4,143.0 L482.7,143.9 L482.9,144.5 L483.2,145.4 L483.4,146.0 L483.7,147.1 L484.0,148.3 L484.3,149.5 L484.5,150.7 L484.6,151.2 L484.7,152.2 L484.8,152.8 L484.9,154.0 L485.0,154.9 L485.1,155.8 L485.3,157.0 L485.4,158.3 L485.5,159.5 L485.7,160.8 L485.8,162.0 L485.9,163.3 L486.1,164.7 L486.2,165.7 L486.3,166.8 L486.4,168.0 L486.6,168.8 L486.6,169.7 L486.7,170.7 L486.8,171.2 L486.9,172.3 L487.0,173.3 L487.1,174.9 L487.2,176.4 L487.4,177.7 L487.5,179.4 L487.6,180.7 L487.7,181.7 L487.8,182.8 L487.9,183.4 L488.0,183.8 L488.1,183.5 L488.2,183.4 L488.2,183.0 L488.3,182.1 L488.3,181.3 L488.4,180.7 L488.5,179.7 L488.6,178.3 L488.7,177.2 L488.8,176.0 L488.9,174.5 L488.9,173.2 L489.0,171.8 L489.1,170.4 L489.2,169.1 L489.3,167.6 L489.4,166.3 L489.5,165.2 L489.6,163.8 L489.6,162.9 L489.7,162.0 L489.8,161.0 L489.8,160.2 L489.9,159.9 L490.1,158.0 L490.4,156.3 L490.6,155.0 L490.9,154.0 L491.1,153.1 L491.3,152.9 L491.5,153.3 L491.8,154.4 L492.1,155.6 L492.4,157.2 L492.7,158.4 L492.9,159.7 L493.0,160.6 L493.1,161.8 L493.2,162.9 L493.3,164.3 L493.4,165.7 L493.5,167.3 L493.6,168.5 L493.7,169.9 L493.8,170.8 L493.9,171.0 L494.0,171.1 L494.1,171.1 L494.1,170.5 L494.2,169.9 L494.3,168.9 L494.4,167.8 L494.5,166.8 L494.6,165.8 L494.8,164.3 L494.9,163.0 L495.0,161.7 L495.1,160.4 L495.2,159.0 L495.3,158.0 L495.5,156.5 L495.6,155.3 L495.6,154.7 L495.7,153.8 L495.8,153.2 L495.9,152.0 L496.0,151.1 L496.1,149.9 L496.3,148.5 L496.4,147.5 L496.5,146.3 L496.7,145.1 L496.9,144.0 L497.0,143.0 L497.2,142.3 L497.4,141.6 L497.7,140.6 L498.1,139.8 L498.5,138.7 L499.3,138.1 L500.4,137.1 L502.0,136.9 L502.5,136.7 L503.0,136.7 L503.7,136.5 L504.5,136.4 L505.3,136.2 L506.2,135.8 L507.2,136.0 L508.3,135.7 L509.4,135.6 L510.5,135.6 L511.7,135.4 L512.9,135.3 L514.2,135.4 L515.4,135.1 L516.7,134.9 L517.9,134.7 L519.2,134.9 L520.4,134.6 L521.6,134.6 L522.8,134.3 L523.9,134.2 L525.0,134.2 L526.0,134.3 L527.0,133.9 L527.8,134.1 L528.7,134.1 L529.4,134.0 L530.0,133.9 L530.9,133.5 L531.9,133.7 L532.8,133.7 L533.8,133.3 L534.8,133.4 L535.9,133.3 L536.9,133.3 L537.9,133.3 L539.0,133.2 L540.1,133.3 L541.1,132.9 L542.1,132.9 L543.2,132.9 L544.2,132.9 L545.2,132.8 L546.1,133.2 L547.1,133.1 L548.0,132.8 L548.6,133.0 L549.3,132.9 L550.2,133.0 L551.1,133.0 L552.0,133.1 L553.0,133.1 L554.1,133.1 L555.3,133.0 L556.4,133.1 L557.6,133.1 L558.9,133.3 L560.1,133.4 L561.4,133.3 L562.7,133.2 L563.9,133.3 L565.2,133.4 L566.4,133.6 L567.6,133.7 L568.7,133.6 L569.8,133.8 L570.9,133.7 L571.8,133.7 L572.8,133.7 L573.6,133.8 L574.3,134.0 L575.0,133.9 L575.6,134.0 L576.0,134.0 L578.3,133.9 L578.8,134.2 L579.0,136.1 L579.1,136.3 L579.2,137.0 L579.2,137.7 L579.3,138.7 L579.4,139.6 L579.5,140.4 L579.6,141.7 L579.7,142.8 L579.8,143.8 L579.9,145.1 L580.0,146.2 L580.1,147.8 L580.2,149.0 L580.3,150.4 L580.4,151.6 L580.5,152.8 L580.5,154.0 L580.6,155.0 L580.7,155.9 L580.8,157.1 L580.8,157.8 L580.9,158.6 L581.0,159.5 L581.0,159.8 L581.1,161.1 L581.2,162.5 L581.3,164.3 L581.4,165.5 L581.5,166.8 L581.6,168.4 L581.7,169.1 L581.8,170.0 L581.9,170.2 L582.0,170.1 L582.1,169.9 L582.1,169.3 L582.2,168.8 L582.3,167.7 L582.3,167.1 L582.4,166.0 L582.5,165.0 L582.6,163.6 L582.7,162.6 L582.8,161.4 L582.9,159.7 L583.0,158.5 L583.1,157.2 L583.2,156.0 L583.3,154.5 L583.4,153.3 L583.5,152.1 L583.6,151.2 L583.7,150.3 L583.8,149.3 L583.9,148.5 L584.0,148.0 L584.2,146.8 L584.4,145.6 L584.7,144.3 L584.9,143.3 L585.2,142.3 L585.6,141.0 L585.9,140.2 L586.3,139.1 L586.6,138.6 L587.0,138.1 L587.6,137.6 L588.5,137.2 L589.6,136.9 L590.8,136.8 L592.0,136.7 L593.2,136.3 L594.2,136.3 L595.0,136.5 L595.9,136.5 L597.1,136.2 L598.3,136.1 L599.6,136.2 L600.8,136.2 L601.8,136.6 L602.4,137.3 L602.6,137.9 L602.7,138.6 L602.9,139.5 L603.0,140.8 L603.1,142.1 L603.2,143.2 L603.2,144.8 L603.3,146.0 L603.3,147.6 L603.4,148.9 L603.4,150.0 L603.5,151.1 L603.5,152.0 L603.6,153.0 L603.6,153.5 L603.7,153.8 L603.8,153.8 L604.0,153.2 L604.3,152.3 L604.5,150.7 L604.7,149.6 L605.0,147.9 L605.2,146.7 L605.5,145.6 L605.7,145.2 L606.6,145.3 L607.9,146.3 L609.0,147.1 L609.9,147.2 L611.2,147.2 L612.4,146.9 L613.4,147.2 L614.1,147.8 L614.9,148.4 L615.8,149.2 L616.6,150.1 L617.3,151.0 L618.2,151.7 L619.3,152.6 L620.4,153.3 L621.2,153.8 L621.9,154.5 L622.7,155.4 L623.5,156.5 L624.1,157.8 L624.4,158.5 L624.7,159.6 L625.0,160.6 L625.4,162.2 L625.7,163.3 L626.1,164.6 L626.4,165.7 L626.7,166.1 L627.0,166.3 L627.2,166.3 L627.5,165.4 L627.8,164.3 L628.1,163.1 L628.4,161.7 L628.8,160.0 L629.1,158.9 L629.4,157.8 L629.7,157.1 L629.9,156.7 L630.2,157.1 L630.5,157.9 L630.8,158.7 L631.2,160.0 L631.6,161.2 L632.0,162.6 L632.3,164.0 L632.6,164.7 L632.8,165.7 L633.5,167.2 L634.2,167.2 L634.6,167.1 L635.2,166.0 L635.8,165.1 L636.5,163.9 L637.2,162.5 L637.7,161.7 L638.0,161.0 L638.4,160.1 L638.9,158.9 L639.3,157.9 L639.8,156.9 L640.3,155.6 L640.8,154.5 L641.2,153.4 L641.5,152.9 L642.0,151.9 L642.7,150.9 L643.4,149.7 L644.1,148.6 L644.8,147.6 L645.4,147.2 L646.2,146.8 L647.2,146.4 L648.4,146.6 L649.5,146.4 L650.3,145.9 L651.1,145.8 L652.2,144.8 L653.3,144.1 L654.4,143.6 L655.1,143.2 L656.1,143.4 L657.2,144.2 L658.0,145.1 L658.3,145.6 L658.7,146.5 L659.1,147.5 L659.6,148.9 L660.0,150.1 L660.3,151.1 L660.6,152.0 L660.8,152.7 L661.0,153.7 L661.3,155.0 L661.6,156.5 L661.8,157.4 L662.1,158.6 L662.3,159.3 L662.5,159.8 L662.8,159.4 L663.2,158.5 L663.6,157.2 L664.0,155.9 L664.4,154.8 L664.8,153.8 L665.7,153.2 L666.9,152.0 L668.0,151.3 L668.7,150.7" fill="none" stroke="#c93c3c" stroke-width="1.15" stroke-linejoin="round"/>
<path d="M402.0,194.9 L402.4,194.9 L403.0,194.9 L403.6,194.8 L404.4,194.8 L405.3,194.9 L406.3,195.0 L407.4,194.9 L408.5,194.9 L409.7,194.7 L410.9,194.7 L412.1,194.6 L413.4,194.5 L414.7,194.5 L416.0,194.5 L417.3,194.6 L418.6,194.6 L419.9,194.5 L421.1,194.5 L422.2,194.3 L423.3,194.3 L424.4,194.4 L425.3,194.4 L426.1,194.5 L426.9,194.5 L427.5,194.3 L428.0,194.4 L429.6,194.7 L430.9,195.0 L431.8,195.4 L432.5,196.1 L433.2,196.5 L434.0,197.1 L434.7,197.4 L435.7,197.8 L436.8,198.2 L438.0,199.0 L439.2,199.4 L440.3,200.0 L441.3,200.3 L442.0,200.4 L442.9,200.5 L443.8,200.5 L444.8,200.3 L445.9,200.0 L446.9,199.8 L448.0,199.7 L448.6,199.3 L449.4,199.1 L450.3,199.0 L451.4,198.5 L452.5,198.3 L453.6,197.9 L454.8,197.4 L456.0,197.3 L457.1,196.7 L458.2,196.4 L459.2,196.1 L460.0,196.0 L460.7,195.8 L461.6,195.6 L462.6,195.5 L463.7,195.2 L464.8,195.1 L466.0,194.9 L467.2,194.5 L468.4,194.3 L469.6,194.1 L470.7,194.1 L471.7,193.9 L472.6,193.7 L473.4,193.6 L474.0,193.5 L475.1,193.5 L476.3,193.4 L477.4,193.7 L478.5,193.8 L479.5,194.0 L480.4,194.2 L481.0,194.5 L481.6,194.7 L482.1,195.4 L482.7,196.4 L483.2,197.4 L483.6,198.5 L484.0,200.1 L484.1,200.6 L484.2,201.3 L484.3,201.9 L484.5,202.8 L484.6,203.9 L484.8,204.8 L484.9,206.1 L485.1,207.5 L485.2,208.5 L485.4,209.7 L485.5,211.0 L485.7,212.3 L485.9,213.8 L486.0,214.9 L486.2,216.1 L486.3,217.2 L486.5,218.5 L486.6,219.3 L486.7,220.1 L486.8,220.8 L486.9,221.4 L487.0,221.9 L488.0,224.0 L489.0,223.9 L490.0,223.5 L491.0,223.6 L491.3,224.3 L491.6,225.9 L492.0,227.2 L492.4,228.8 L492.7,229.9 L493.0,230.0 L493.1,229.8 L493.3,229.1 L493.4,228.2 L493.6,227.2 L493.8,226.0 L494.0,224.9 L494.2,223.5 L494.4,222.4 L494.6,221.2 L494.7,219.9 L494.9,218.7 L495.0,217.9 L495.1,217.2 L495.2,216.3 L495.3,215.3 L495.5,214.4 L495.6,213.1 L495.7,211.9 L495.9,210.9 L496.0,209.6 L496.2,208.6 L496.3,207.3 L496.5,206.4 L496.7,205.4 L496.8,204.7 L497.0,204.1 L497.4,203.0 L497.9,201.9 L498.5,200.9 L499.2,200.1 L500.0,199.2 L500.7,198.4 L501.4,197.5 L502.0,197.0 L502.6,196.7 L503.3,196.2 L504.0,195.8 L504.9,195.3 L505.9,195.0 L507.1,194.6 L508.4,194.2 L510.0,194.1 L510.5,194.1 L511.1,193.7 L511.8,193.9 L512.5,193.8 L513.4,193.7 L514.3,193.4 L515.2,193.6 L516.3,193.2 L517.3,193.4 L518.5,193.2 L519.6,192.9 L520.8,192.9 L522.0,192.9 L523.2,192.8 L524.5,192.7 L525.7,192.7 L527.0,192.4 L528.2,192.2 L529.4,192.4 L530.6,192.1 L531.8,192.2 L532.9,191.9 L534.0,192.1 L535.1,192.0 L536.1,191.9 L537.0,191.8 L537.9,191.8 L538.7,191.6 L539.4,191.7 L540.0,191.5 L540.9,191.7 L541.9,191.6 L542.9,191.5 L543.9,191.5 L544.9,191.3 L546.0,191.3 L547.1,191.5 L548.2,191.5 L549.4,191.6 L550.5,191.5 L551.6,191.4 L552.7,191.5 L553.7,191.6 L554.8,191.5 L555.8,191.4 L556.7,191.7 L557.6,191.7 L558.5,191.5 L559.3,191.6 L560.0,191.6 L560.8,191.7 L561.7,191.5 L562.6,191.5 L563.7,191.6 L564.8,191.7 L566.0,191.4 L567.2,191.4 L568.4,191.6 L569.7,191.7 L570.9,191.5 L572.1,191.5 L573.3,191.7 L574.4,191.7 L575.4,191.5 L576.3,191.8 L577.2,191.6 L577.9,191.7 L578.5,192.0 L579.0,192.0 L580.0,192.6 L580.5,193.3 L580.8,194.5 L580.8,195.5 L580.9,196.7 L581.0,198.0 L581.1,198.6 L581.2,199.7 L581.3,200.9 L581.4,202.2 L581.5,203.4 L581.6,205.0 L581.7,206.5 L581.8,207.9 L582.0,209.2 L582.1,210.2 L582.2,210.9 L582.3,211.4 L582.4,211.7 L582.5,211.3 L582.6,210.9 L582.8,210.2 L582.9,209.1 L583.1,208.0 L583.3,206.7 L583.4,205.2 L583.6,203.9 L583.8,202.3 L584.0,201.0 L584.2,199.5 L584.4,198.4 L584.6,197.2 L584.7,196.2 L584.9,195.4 L585.0,194.9 L585.9,194.9 L587.0,196.1 L588.0,197.0 L588.6,196.6 L589.3,195.9 L590.2,195.1 L591.1,194.6 L592.0,193.9 L592.7,193.9 L593.8,193.6 L595.0,193.5 L596.3,193.3 L597.6,193.2 L598.8,193.0 L599.7,193.2 L600.4,193.5 L601.0,193.8 L601.4,194.8 L601.8,195.8 L602.0,197.1 L602.3,198.2 L602.5,199.3 L602.6,200.3 L602.8,201.4 L602.9,202.7 L603.1,204.2 L603.2,205.7 L603.4,206.9 L603.5,208.3 L603.7,209.3 L603.8,210.0 L604.0,210.3 L604.2,210.0 L604.3,209.5 L604.6,208.3 L604.8,207.3 L605.1,206.0 L605.4,204.7 L605.7,203.2 L605.9,201.9 L606.2,200.5 L606.5,199.6 L606.7,198.7 L606.9,198.3 L607.6,198.3 L608.5,199.0 L609.4,200.2 L610.1,201.5 L610.3,202.2 L610.5,203.4 L610.7,204.7 L611.0,206.1 L611.2,207.4 L611.4,208.9 L611.7,210.3 L611.9,211.2 L612.0,212.0 L612.2,212.2 L612.4,211.9 L612.6,211.1 L612.9,209.9 L613.1,208.3 L613.4,206.7 L613.6,205.4 L613.8,204.3 L614.0,203.6 L614.3,204.0 L614.7,205.7 L615.1,207.2 L615.5,208.1 L616.5,207.4 L617.6,206.8 L617.9,207.4 L618.4,208.5 L618.9,209.8 L619.5,211.4 L620.0,212.6 L620.5,213.3 L620.9,213.3 L621.1,212.9 L621.4,212.2 L621.7,211.3 L622.0,209.7 L622.4,208.5 L622.7,207.0 L623.0,205.5 L623.3,204.3 L623.6,203.1 L623.9,202.4 L624.1,201.9 L624.4,201.9 L624.9,202.4 L625.3,203.4 L625.8,204.5 L626.2,205.8 L626.6,207.7 L626.9,209.0 L627.0,209.7 L627.1,210.3 L627.2,211.0 L627.3,211.8 L627.4,212.8 L627.5,213.8 L627.6,214.7 L627.7,215.8 L627.8,217.0 L627.9,218.1 L628.1,219.3 L628.2,220.5 L628.3,221.6 L628.4,223.1 L628.5,224.2 L628.7,225.3 L628.8,226.6 L628.9,228.0 L629.0,228.9 L629.1,230.1 L629.2,231.2 L629.3,232.2 L629.4,233.0 L629.5,233.9 L629.6,234.6 L629.7,235.2 L629.7,236.4 L629.8,237.1 L629.9,238.4 L630.0,239.2 L630.1,240.4 L630.3,241.8 L630.4,243.0 L630.5,244.1 L630.6,245.5 L630.7,246.8 L630.9,248.2 L631.0,249.4 L631.1,250.9 L631.2,252.2 L631.4,253.4 L631.5,254.7 L631.6,255.9 L631.7,256.9 L631.9,258.1 L632.0,259.2 L632.1,260.1 L632.2,260.8 L632.3,261.7 L632.4,262.5 L632.5,262.9 L632.6,263.5 L632.6,263.9 L632.7,264.0 L632.8,264.0 L632.9,263.9 L633.1,263.3 L633.2,262.7 L633.3,261.7 L633.5,260.5 L633.6,259.4 L633.8,257.9 L633.9,256.4 L634.1,255.1 L634.2,253.6 L634.3,252.2 L634.5,250.9 L634.6,249.6 L634.7,248.5 L634.8,247.5 L634.9,246.8 L635.0,246.0 L635.2,244.9 L635.4,243.8 L635.6,243.0 L635.8,241.9 L636.0,240.9 L636.2,239.9 L636.5,238.8 L636.6,237.8 L636.8,236.8 L637.0,236.1 L637.1,235.5 L637.2,234.6 L637.4,233.5 L637.5,232.7 L637.7,231.6 L637.9,230.3 L638.1,228.9 L638.3,227.9 L638.5,226.6 L638.7,225.4 L638.9,224.0 L639.0,223.1 L639.2,221.8 L639.4,221.0 L639.5,220.0 L639.7,219.3 L639.8,218.9 L640.1,217.6 L640.5,216.3 L640.9,214.8 L641.3,213.6 L641.7,212.8 L642.1,212.1 L642.4,212.3 L642.6,212.8 L642.7,213.5 L642.9,214.5 L643.1,215.6 L643.3,217.0 L643.6,218.5 L643.8,220.0 L644.0,221.3 L644.2,222.5 L644.4,223.6 L644.6,224.7 L644.8,225.3 L645.0,225.2 L645.2,225.2 L645.3,224.5 L645.5,223.8 L645.8,222.8 L646.0,221.4 L646.2,220.2 L646.5,218.7 L646.8,217.3 L647.0,215.7 L647.3,214.4 L647.5,213.2 L647.8,212.3 L648.0,211.1 L648.2,210.6 L648.4,210.1 L648.9,210.4 L649.5,211.1 L650.1,212.5 L650.9,214.2 L651.6,215.8 L652.2,216.6 L652.8,216.7 L653.0,216.3 L653.3,215.6 L653.6,214.9 L654.0,214.0 L654.3,213.1 L654.7,211.7 L655.1,210.5 L655.5,209.4 L655.9,207.8 L656.3,206.8 L656.7,205.3 L657.1,204.2 L657.5,203.2 L657.8,202.3 L658.1,201.3 L658.4,201.0 L658.6,200.4 L659.3,200.5 L660.0,201.0 L660.9,202.4 L661.7,203.6 L662.4,204.7 L662.9,205.3 L664.0,204.9 L665.1,203.8 L666.1,203.4 L666.9,203.7 L667.9,204.5 L668.8,205.5 L669.4,205.8" fill="none" stroke="#4a4a4a" stroke-width="1.1" stroke-linejoin="round"/>
<path d="M403.0,281.6 L403.4,281.6 L404.0,281.7 L404.6,281.7 L405.4,281.6 L406.3,281.7 L407.2,281.5 L408.2,281.6 L409.3,281.6 L410.5,281.6 L411.7,281.6 L412.9,281.4 L414.2,281.5 L415.5,281.5 L416.8,281.5 L418.1,281.5 L419.4,281.4 L420.6,281.4 L421.9,281.4 L423.1,281.6 L424.2,281.6 L425.3,281.4 L426.3,281.6 L427.3,281.4 L428.1,281.6 L428.8,281.5 L429.5,281.5 L430.0,281.7 L431.4,281.7 L432.7,281.9 L433.9,282.3 L434.9,282.5 L435.8,282.7 L436.6,283.2 L437.4,283.4 L438.0,283.6 L438.9,283.9 L440.0,284.7 L441.1,285.3 L442.2,286.0 L443.2,286.6 L444.0,287.0 L444.7,287.5 L445.6,288.3 L446.5,289.1 L447.5,289.9 L448.3,290.6 L449.0,291.0 L449.8,291.0 L450.8,291.0 L451.8,290.7 L452.9,290.4 L454.0,290.1 L454.6,289.7 L455.3,289.3 L456.2,288.9 L457.1,288.5 L458.2,287.8 L459.2,287.4 L460.3,286.6 L461.3,286.3 L462.3,285.8 L463.2,285.2 L464.0,285.1 L464.7,284.7 L465.7,284.5 L466.7,284.1 L467.8,283.8 L469.0,283.5 L470.3,283.4 L471.5,282.9 L472.6,282.8 L473.7,282.6 L474.6,282.4 L475.4,282.1 L476.0,282.0 L477.3,281.8 L478.4,281.8 L479.3,281.8 L480.0,282.1 L481.0,282.2 L482.1,282.7 L483.0,283.9 L483.1,284.6 L483.2,285.1 L483.4,286.0 L483.5,287.0 L483.7,288.2 L483.8,289.2 L483.9,290.6 L484.1,291.7 L484.2,293.0 L484.4,294.2 L484.5,295.4 L484.6,296.5 L484.7,297.6 L484.8,298.6 L484.9,299.5 L485.0,299.9 L485.1,301.0 L485.3,302.3 L485.4,303.4 L485.5,304.5 L485.7,305.5 L485.8,306.6 L485.9,307.4 L486.0,308.0 L486.2,309.0 L486.5,310.0 L486.8,311.1 L487.0,311.9 L487.1,312.8 L487.3,314.0 L487.6,315.3 L487.8,316.7 L488.0,318.0 L488.2,318.7 L488.4,319.1 L488.6,318.6 L488.8,317.8 L489.0,316.6 L489.2,315.4 L489.5,313.9 L489.7,312.7 L489.9,311.7 L490.0,311.1 L491.0,310.1 L492.4,309.0 L492.9,309.9 L493.5,311.4 L494.0,312.0 L494.3,311.4 L494.7,310.4 L495.0,309.0 L495.4,307.8 L495.6,307.1 L495.7,306.3 L495.8,305.5 L496.0,304.0 L496.1,303.4 L496.2,302.6 L496.3,301.8 L496.4,300.8 L496.6,299.7 L496.8,298.3 L496.9,297.1 L497.1,295.9 L497.3,294.6 L497.4,293.4 L497.6,292.4 L497.8,291.3 L497.9,290.6 L498.0,290.0 L498.3,288.7 L498.6,287.6 L499.0,286.5 L499.5,285.6 L500.0,285.1 L500.5,284.7 L501.2,284.4 L502.0,284.0 L503.1,284.0 L504.4,283.7 L506.0,283.6 L506.5,283.5 L507.1,283.6 L507.8,283.5 L508.6,283.4 L509.4,283.3 L510.3,283.3 L511.3,283.2 L512.4,283.2 L513.5,283.0 L514.6,283.0 L515.8,282.9 L517.0,282.8 L518.1,282.8 L519.4,282.7 L520.6,282.6 L521.8,282.5 L522.9,282.3 L524.1,282.4 L525.2,282.4 L526.3,282.2 L527.3,282.2 L528.3,282.1 L529.2,282.1 L530.0,281.9 L530.7,282.0 L531.4,282.0 L532.3,281.9 L533.1,281.8 L534.1,281.9 L535.1,281.8 L536.2,281.8 L537.3,281.8 L538.4,281.6 L539.6,281.6 L540.8,281.6 L542.0,281.6 L543.2,281.5 L544.5,281.5 L545.7,281.5 L546.9,281.3 L548.1,281.3 L549.3,281.3 L550.5,281.2 L551.7,281.2 L552.8,281.2 L553.8,281.1 L554.8,281.1 L555.8,281.0 L556.7,281.1 L557.5,281.0 L558.3,281.1 L558.9,281.0 L559.5,281.0 L560.0,281.1 L561.5,280.9 L562.8,280.9 L563.9,280.9 L564.8,280.9 L565.6,280.8 L566.4,281.0 L567.2,280.9 L568.0,280.9 L568.7,281.1 L569.6,281.0 L570.6,281.2 L571.8,281.2 L573.0,281.4 L574.3,281.6 L575.5,281.7 L576.7,281.7 L577.8,281.9 L578.7,281.9 L579.5,281.9 L580.0,281.9 L581.0,282.4 L581.2,283.0 L581.6,284.1 L582.0,285.4 L582.5,286.7 L582.9,287.8 L583.3,288.7 L583.6,288.9 L583.9,288.5 L584.3,287.6 L584.7,286.3 L585.1,284.8 L585.5,283.7 L586.0,283.1 L586.7,282.7 L587.6,282.7 L588.7,282.7 L589.9,282.8 L591.0,283.1 L592.0,283.0 L592.8,283.0 L593.8,282.9 L595.0,282.8 L596.3,282.5 L597.6,282.8 L598.9,282.4 L600.1,282.3 L601.0,282.3 L601.6,282.8 L602.4,283.1 L602.9,283.9 L603.2,285.4 L603.5,286.9 L603.6,287.7 L603.7,288.4 L603.7,289.3 L603.8,290.7 L603.9,291.9 L604.0,292.7 L604.1,294.4 L604.2,295.6 L604.3,297.3 L604.4,298.6 L604.5,299.5 L604.6,300.6 L604.7,301.5 L604.8,302.8 L604.8,303.0 L604.9,303.6 L605.1,303.6 L605.4,302.7 L605.7,301.1 L606.0,299.6 L606.2,298.1 L606.5,297.4 L606.8,295.9 L607.2,294.7 L607.5,293.6 L607.8,292.7 L608.3,291.8 L608.7,290.6 L609.2,289.6 L609.5,289.2 L610.8,289.8 L610.9,290.0 L611.0,291.0 L611.2,292.2 L611.3,293.8 L611.5,295.1 L611.6,296.3 L611.8,297.3 L611.9,299.0 L612.1,299.8 L612.2,300.6 L612.3,301.0 L612.5,300.8 L612.8,299.9 L613.2,298.9 L613.5,297.1 L613.8,295.8 L614.1,295.2 L614.6,293.8 L615.3,292.7 L616.1,291.9 L616.7,290.7 L617.7,290.6 L619.0,290.0 L620.0,289.7 L621.1,289.8 L622.3,290.4 L623.3,290.6 L624.3,289.1 L625.2,288.4 L625.8,289.2 L626.5,290.6 L627.2,291.6 L628.0,292.2 L629.0,293.4 L629.8,294.5 L630.1,294.7 L630.5,295.8 L631.0,297.3 L631.4,298.5 L631.8,299.5 L632.2,300.0 L632.5,301.0 L634.4,301.8 L635.2,300.1 L636.0,299.7 L636.1,299.8 L636.1,301.0 L636.2,301.5 L636.3,302.9 L636.4,304.3 L636.4,305.5 L636.5,306.6 L636.6,308.1 L636.7,310.0 L636.8,310.9 L636.9,312.6 L636.9,313.7 L637.0,314.7 L637.1,315.9 L637.2,316.3 L637.2,316.8 L637.3,317.2 L637.4,316.9 L637.5,316.5 L637.6,316.0 L637.7,315.1 L637.9,314.0 L638.0,312.2 L638.1,310.9 L638.3,309.4 L638.4,308.1 L638.6,306.6 L638.7,305.6 L638.8,304.2 L638.9,303.2 L639.0,303.0 L640.3,301.3 L640.5,301.0 L640.7,300.0 L640.9,299.0 L641.2,297.5 L641.4,296.2 L641.7,294.7 L641.9,293.7 L642.1,292.7 L642.3,292.5 L643.9,293.0 L644.1,293.6 L644.4,295.0 L644.7,296.6 L645.1,298.3 L645.4,299.1 L645.6,299.7 L645.8,299.3 L646.0,298.1 L646.3,297.2 L646.6,295.4 L646.9,293.9 L647.2,292.9 L647.4,291.5 L647.6,291.2 L648.5,290.0 L649.5,289.6 L650.9,288.9 L652.2,288.1 L652.5,289.2 L652.7,289.9 L653.0,291.3 L653.3,293.3 L653.6,294.4 L653.9,295.1 L654.1,295.4 L654.3,295.5 L654.5,294.4 L654.8,293.2 L655.1,291.3 L655.4,290.2 L655.7,288.8 L655.9,287.8 L656.1,287.6 L656.3,288.1 L656.4,288.8 L656.6,290.1 L656.8,291.4 L657.0,293.4 L657.3,294.7 L657.5,296.0 L657.6,296.6 L657.8,297.1 L658.0,296.6 L658.2,295.9 L658.4,294.8 L658.6,293.5 L658.9,291.8 L659.1,290.1 L659.4,288.7 L659.6,287.6 L659.8,286.6 L660.0,286.6 L660.5,286.7 L661.0,288.2 L661.6,289.3 L662.0,290.4 L662.6,289.9 L663.3,288.2 L664.0,287.1 L665.3,287.2 L666.6,287.5 L668.0,288.2 L669.2,288.9" fill="none" stroke="#e68a1e" stroke-width="1.15" stroke-linejoin="round"/>
<path d="M403.0,361.9 L403.4,361.9 L404.0,361.5 L404.8,361.3 L405.7,361.0 L406.7,361.6 L407.7,361.4 L408.9,361.6 L410.1,361.2 L411.3,361.5 L412.6,361.0 L413.8,361.5 L415.0,361.3 L416.2,361.0 L417.3,361.1 L418.3,361.2 L419.2,360.7 L420.0,361.0 L420.7,361.3 L421.6,360.8 L422.5,361.2 L423.6,361.1 L424.7,361.2 L425.8,360.8 L427.0,360.5 L428.2,361.2 L429.4,361.2 L430.6,360.8 L431.8,360.5 L432.9,360.6 L434.0,361.0 L435.0,360.7 L435.9,361.3 L436.7,361.0 L437.4,360.7 L438.0,361.1 L439.1,361.0 L440.2,361.8 L441.3,362.0 L442.4,362.0 L443.3,362.5 L444.3,362.8 L445.2,363.1 L446.0,363.4 L446.7,362.6 L447.6,363.0 L448.6,363.2 L449.8,363.0 L450.9,363.2 L452.1,362.8 L453.2,363.5 L454.3,363.1 L455.2,362.7 L456.0,363.1 L456.8,362.8 L457.7,362.5 L458.8,362.7 L459.9,362.2 L461.0,362.1 L462.1,362.5 L463.3,362.2 L464.3,361.4 L465.2,362.0 L466.0,361.2 L466.9,361.3 L468.0,361.7 L469.3,361.3 L470.6,360.8 L472.0,360.7 L473.2,360.6 L474.4,360.2 L475.3,361.0 L475.9,360.1 L477.3,361.0 L477.9,362.3 L478.3,363.2 L478.8,365.4 L479.2,365.6 L479.6,365.4 L480.1,363.7 L480.5,362.5 L481.5,362.1 L482.5,362.3 L482.6,363.1 L482.8,363.9 L483.0,364.6 L483.1,365.7 L483.3,367.1 L483.4,368.1 L483.6,369.0 L483.7,370.6 L483.8,371.1 L483.9,372.1 L484.0,373.4 L484.0,374.1 L484.1,375.3 L484.2,376.8 L484.3,378.5 L484.4,379.5 L484.4,380.5 L484.5,381.6 L484.6,382.6 L486.2,383.0 L486.5,383.9 L486.9,385.6 L487.2,386.3 L487.5,387.1 L487.9,388.6 L488.2,389.3 L488.5,388.3 L488.9,387.1 L489.2,386.0 L490.3,385.5 L491.8,385.0 L493.0,383.8 L493.8,385.1 L494.4,384.5 L494.9,382.6 L495.0,382.1 L495.0,380.9 L495.1,379.7 L495.2,378.5 L495.3,377.4 L495.4,376.2 L495.5,374.6 L495.6,373.5 L495.8,373.0 L496.2,371.6 L496.6,370.5 L497.1,370.0 L497.5,368.4 L498.0,368.1 L498.3,367.2 L499.2,366.7 L500.4,365.8 L501.5,364.6 L502.3,364.7 L503.4,365.4 L504.7,365.2 L505.9,365.2 L506.8,365.7 L507.7,365.8 L508.9,365.7 L510.1,365.8 L511.2,365.7 L512.0,366.2 L513.0,366.5 L514.1,367.6 L515.2,368.3 L516.0,368.4 L517.3,369.5 L518.6,369.6 L519.5,370.1 L520.6,371.3 L521.8,371.8 L522.6,373.0 L523.0,373.5 L523.4,374.6 L523.8,375.4 L524.2,377.2 L524.5,377.5 L524.8,378.9 L525.1,380.5 L525.5,381.9 L525.9,383.2 L526.2,383.9 L526.5,384.6 L526.9,384.2 L527.4,382.4 L528.0,381.7 L528.5,380.9 L529.5,380.5 L530.8,381.2 L531.8,381.1 L532.4,380.4 L533.1,380.0 L533.8,378.4 L534.4,378.2 L534.8,377.7 L535.4,376.3 L536.0,375.8 L536.7,374.0 L537.3,373.7 L537.9,372.3 L538.3,372.3 L538.9,371.0 L539.6,370.6 L540.4,368.9 L541.1,368.1 L541.6,368.3 L542.6,367.7 L543.6,367.3 L544.4,366.2 L545.3,365.3 L546.2,364.6 L546.9,363.7 L547.8,363.7 L548.8,362.7 L549.5,362.5 L550.5,362.5 L551.8,362.8 L552.8,363.0 L554.0,363.8 L555.3,363.1 L556.0,363.2 L557.0,362.6 L558.2,362.1 L559.4,361.3 L560.5,361.0 L561.2,361.4 L562.1,361.0 L563.1,361.5 L564.3,361.2 L565.5,361.5 L566.7,361.5 L567.8,362.0 L568.9,361.9 L569.7,361.9 L570.6,361.9 L571.7,362.4 L573.0,362.8 L574.3,362.5 L575.7,362.4 L576.9,362.7 L578.1,362.8 L579.0,363.3 L579.6,363.7 L580.5,364.2 L580.7,365.0 L580.9,366.5 L581.0,367.3 L581.2,368.3 L581.3,369.5 L581.5,371.3 L581.6,372.3 L581.8,373.6 L581.9,374.8 L582.1,375.6 L582.2,376.2 L582.8,375.2 L583.5,373.4 L583.7,373.0 L584.0,371.2 L584.3,370.4 L584.6,368.8 L585.0,367.3 L585.3,366.2 L585.5,366.2 L586.5,364.7 L587.5,364.9 L588.4,364.6 L589.4,365.3 L590.4,365.4 L591.4,366.0 L592.0,365.6 L592.7,364.0 L593.4,363.5 L594.3,363.3 L595.6,362.2 L596.6,362.1 L598.0,362.4 L599.3,363.0 L599.8,363.5 L600.2,365.4 L600.6,365.7 L601.0,364.7 L601.5,363.7 L601.9,362.3 L602.0,363.5 L602.2,364.1 L602.4,365.0 L602.6,366.2 L602.8,367.4 L602.9,368.5 L603.1,370.0 L603.2,371.0 L603.2,372.2 L603.3,373.0 L603.3,374.0 L603.4,374.5 L603.4,376.1 L603.5,377.1 L603.5,379.0 L603.6,380.3 L603.6,382.0 L603.7,383.1 L603.7,384.5 L603.8,385.8 L603.8,386.5 L603.9,388.0 L603.9,388.5 L604.0,389.6 L604.0,390.0 L604.1,391.2 L604.1,390.6 L604.2,391.3 L604.2,390.8 L604.3,389.6 L604.3,388.9 L604.4,386.9 L604.5,385.6 L604.6,384.0 L604.7,382.4 L604.7,380.8 L604.8,380.1 L604.9,378.1 L605.0,377.3 L605.1,376.1 L605.1,375.2 L605.2,375.1 L605.3,375.0 L605.5,376.5 L605.7,377.2 L606.0,378.9 L606.2,380.4 L606.4,381.9 L606.6,382.7 L606.8,382.9 L607.0,382.4 L607.2,382.2 L607.4,380.2 L607.6,378.9 L607.9,377.7 L608.1,376.2 L608.3,375.5 L608.5,374.9 L608.9,374.8 L609.3,375.2 L609.8,376.8 L610.3,378.0 L610.7,379.5 L610.9,379.9 L611.1,381.1 L611.3,382.4 L611.5,383.5 L611.8,385.2 L612.0,386.6 L612.2,387.1 L612.4,388.7 L612.6,389.2 L612.8,389.3 L612.9,388.6 L613.0,387.9 L613.2,387.0 L613.4,386.1 L613.5,385.4 L613.7,383.6 L613.9,381.9 L614.1,380.8 L614.2,379.2 L614.4,378.3 L614.6,377.3 L614.7,376.4 L614.9,374.8 L615.0,374.5 L615.8,372.4 L616.9,371.9 L617.7,372.2 L617.8,372.4 L618.0,373.4 L618.2,374.0 L618.3,375.3 L618.5,376.3 L618.7,377.5 L618.9,379.5 L619.1,380.7 L619.3,381.9 L619.5,383.4 L619.7,384.4 L619.9,385.6 L620.0,385.7 L620.2,386.4 L620.3,386.6 L620.5,387.0 L620.7,386.3 L621.0,384.6 L621.2,383.4 L621.5,381.5 L621.7,380.5 L621.9,379.3 L622.1,377.8 L622.6,377.5 L623.1,376.1 L623.7,374.7 L624.2,374.6 L624.7,374.9 L625.3,376.5 L625.8,377.9 L626.3,377.9 L627.3,377.8 L628.4,378.3 L628.8,379.0 L629.2,379.7 L629.7,380.5 L630.2,381.6 L630.5,383.9 L630.6,384.3 L630.6,385.3 L630.7,385.9 L630.8,387.0 L630.9,388.3 L630.9,389.1 L631.0,390.6 L631.1,391.3 L631.2,392.4 L631.3,394.5 L631.4,395.1 L631.5,397.4 L631.6,398.2 L631.7,399.2 L631.7,400.6 L631.8,402.2 L631.9,403.0 L632.0,404.2 L632.1,404.6 L632.1,406.0 L632.2,406.1 L632.2,407.0 L632.3,406.6 L632.4,407.0 L632.5,406.5 L632.6,405.7 L632.7,404.3 L632.8,403.6 L632.9,402.4 L633.0,400.3 L633.1,399.1 L633.2,397.2 L633.3,396.6 L633.4,395.2 L633.5,393.8 L633.6,392.8 L633.7,391.8 L634.5,390.5 L635.4,390.3 L635.6,389.7 L635.8,389.0 L636.0,387.7 L636.2,386.1 L636.4,384.8 L636.6,384.0 L636.8,383.0 L637.1,382.2 L637.4,381.5 L637.8,379.9 L638.2,379.2 L638.6,377.9 L638.9,376.4 L639.2,376.2 L639.5,375.1 L639.9,373.8 L640.3,372.0 L640.7,371.6 L641.1,370.2 L641.5,369.5 L641.7,368.8 L642.0,368.6 L642.3,369.0 L642.6,370.0 L642.9,371.6 L643.1,373.7 L643.1,374.1 L643.2,375.3 L643.2,375.9 L643.2,376.9 L643.3,377.2 L643.3,378.6 L643.4,379.5 L643.4,380.2 L643.4,382.1 L643.5,382.8 L643.5,384.0 L643.6,385.3 L643.6,387.3 L643.7,388.0 L643.7,389.5 L643.8,391.0 L643.8,392.2 L643.9,393.9 L643.9,394.7 L644.0,396.3 L644.0,397.8 L644.1,399.1 L644.1,400.2 L644.2,401.1 L644.2,402.5 L644.2,403.8 L644.3,404.2 L644.3,405.2 L644.4,406.1 L644.4,406.2 L644.4,406.7 L644.5,407.8 L644.5,407.4 L644.6,407.7 L644.6,407.5 L644.7,407.6 L644.8,406.3 L644.9,405.6 L645.0,403.7 L645.1,402.4 L645.2,401.2 L645.3,399.4 L645.4,398.2 L645.5,396.6 L645.6,394.8 L645.7,393.6 L645.8,392.9 L645.9,392.2 L646.0,391.0 L646.2,390.1 L646.4,388.8 L646.6,387.9 L646.8,386.8 L647.0,385.7 L647.2,384.8 L647.4,384.0 L647.6,382.9 L647.8,382.0 L648.0,380.8 L648.2,380.2 L648.4,379.4 L648.7,378.4 L648.9,376.5 L649.2,375.0 L649.6,373.8 L649.9,373.0 L650.1,372.2 L650.4,370.6 L650.6,370.5 L650.8,369.9 L651.9,370.9 L652.9,372.3 L653.3,370.7 L653.7,369.8 L654.2,367.5 L654.7,366.4 L655.0,366.9 L655.1,367.3 L655.1,367.5 L655.2,368.3 L655.3,369.0 L655.4,369.8 L655.5,370.7 L655.6,371.7 L655.7,373.0 L655.8,374.3 L655.9,375.6 L656.0,377.1 L656.0,378.3 L656.1,379.5 L656.2,380.6 L656.3,382.1 L656.4,382.9 L656.5,384.0 L656.5,385.0 L656.6,386.5 L656.7,386.9 L656.7,387.8 L656.7,388.6 L656.8,389.7 L656.8,390.8 L656.9,391.8 L656.9,393.0 L656.9,393.9 L657.0,395.8 L657.0,397.0 L657.1,398.0 L657.1,399.4 L657.1,400.9 L657.2,401.8 L657.2,403.5 L657.2,404.9 L657.3,405.6 L657.3,406.8 L657.3,407.5 L657.4,408.9 L657.4,409.1 L657.4,409.7 L657.5,410.4 L657.5,410.3 L657.5,410.7 L657.6,409.8 L657.7,409.1 L657.7,407.8 L657.8,406.7 L657.9,405.1 L658.0,403.2 L658.0,402.3 L658.1,400.0 L658.2,398.9 L658.3,397.7 L658.3,396.4 L658.4,395.4 L658.5,395.0 L658.5,395.4 L658.5,394.8 L658.6,396.1 L658.6,396.6 L658.6,397.4 L658.7,398.7 L658.7,400.0 L658.7,401.5 L658.7,403.2 L658.8,404.3 L658.8,405.7 L658.8,407.3 L658.9,409.3 L658.9,410.4 L659.0,411.4 L659.0,413.2 L659.0,413.9 L659.1,415.1 L659.1,416.1 L659.1,416.6 L659.2,416.8 L659.2,417.0 L659.2,416.6 L659.3,416.6 L659.3,416.0 L659.3,414.9 L659.4,414.6 L659.4,413.5 L659.4,413.1 L659.5,411.8 L659.5,410.5 L659.6,409.1 L659.6,408.5 L659.7,406.8 L659.7,405.2 L659.8,404.6 L659.8,402.5 L659.9,401.1 L659.9,399.7 L660.0,398.8 L660.0,397.3 L660.1,395.9 L660.1,394.9 L660.2,393.2 L660.2,391.7 L660.3,391.2 L660.3,389.2 L660.4,388.0 L660.4,387.2 L660.5,386.9 L660.5,385.6 L660.5,384.8 L660.6,384.2 L660.6,383.7 L660.8,382.2 L661.0,380.4 L661.2,378.8 L661.4,377.6 L661.7,377.5 L661.8,376.9 L662.0,376.8 L662.1,376.9 L662.2,378.5 L662.3,379.3 L662.4,381.1 L662.6,382.4 L662.7,383.9 L662.8,384.8 L662.9,386.7 L663.0,387.4 L663.1,386.9 L663.2,386.6 L663.3,386.5 L663.3,385.5 L663.4,383.8 L663.5,383.1 L663.6,380.8 L663.7,379.7 L663.8,378.2 L663.9,376.9 L664.0,376.2 L664.1,375.3 L664.7,374.2 L665.5,373.5 L666.1,372.1 L667.0,371.3 L667.8,370.5 L668.3,369.6" fill="none" stroke="#1f841f" stroke-width="1.3" stroke-linejoin="round"/>
<g font-size="8.7" fill="#1a1a1a" font-weight="bold" stroke="#fff" stroke-width="1.2" paint-order="stroke" stroke-linejoin="round"><text transform="translate(425,47) scale(0.95,1)">3400</text><text transform="translate(444.4,55) scale(0.95,1)">3300</text><text transform="translate(440.8,73.6) scale(0.95,1)">3100-3000</text><text transform="translate(493.6,69) scale(0.95,1)">2850</text><text transform="translate(569,68.2) scale(0.95,1)">1680</text><text transform="translate(578,81.3) scale(0.95,1)">1650</text><text transform="translate(596.2,90) scale(0.95,1)">1600</text><text transform="translate(609,20) scale(0.95,1)">1260</text><text transform="translate(639,23.6) scale(0.95,1)">1060</text><text transform="translate(626,82.4) scale(0.95,1)">1450</text><text transform="translate(653,85.6) scale(0.95,1)">900</text><text transform="translate(431,115) scale(0.95,1)">3402</text><text transform="translate(456.6,129) scale(0.95,1)">3000</text><text transform="translate(496.6,130.4) scale(0.95,1)">2800</text><text transform="translate(570,120) scale(0.95,1)">1463</text><text transform="translate(603.6,128) scale(0.95,1)">1457</text><text transform="translate(653,131.6) scale(0.95,1)">1054</text><text transform="translate(427,164.4) scale(0.95,1)">3401</text><text transform="translate(455.6,184) scale(0.95,1)">2923</text><text transform="translate(507,180.4) scale(0.95,1)">2854</text><text transform="translate(552.4,179.6) scale(0.95,1)">1739</text><text transform="translate(419.6,226) scale(0.95,1)">3502</text><text transform="translate(445.6,244.4) scale(0.95,1)">2922</text><text transform="translate(495,239) scale(0.95,1)">2859</text><text transform="translate(560,230.4) scale(0.95,1)">1735</text><text transform="translate(657.6,271.6) scale(0.95,1)">1093</text><text transform="translate(445.6,274) scale(0.95,1)">3401</text><text transform="translate(413,296.9) scale(0.95,1)">3502</text><text transform="translate(431,304) scale(0.95,1)">3402</text><text transform="translate(464.4,325) scale(0.95,1)">3000</text><text transform="translate(492.4,325.6) scale(0.95,1)">2922</text><text transform="translate(515.6,326.4) scale(0.95,1)">2854</text><text transform="translate(477,335) scale(0.95,1)">2923</text><text transform="translate(500.4,336) scale(0.95,1)">2859</text><text transform="translate(514,313.6) scale(0.95,1)">2800</text><text transform="translate(564,299.6) scale(0.95,1)">1739</text><text transform="translate(578.4,311.6) scale(0.95,1)">1735</text><text transform="translate(606,316) scale(0.95,1)">1457</text><text transform="translate(591,325) scale(0.95,1)">1463</text><text transform="translate(619,332) scale(0.95,1)">1093</text><text transform="translate(643.6,328) scale(0.95,1)">1054</text><text transform="translate(442,353.6) scale(0.95,1)">3401</text><text transform="translate(421,370.9) scale(0.95,1)">3502</text><text transform="translate(435,389.6) scale(0.95,1)">3402</text><text transform="translate(454,380.4) scale(0.95,1)">3300</text><text transform="translate(462.6,393) scale(0.95,1)">3100</text><text transform="translate(465,405.6) scale(0.95,1)">3000</text><text transform="translate(483,361.6) scale(0.95,1)">2854</text><text transform="translate(509,357) scale(0.95,1)">2850</text><text transform="translate(484.4,404) scale(0.95,1)">2923</text><text transform="translate(492,415) scale(0.95,1)">2922</text><text transform="translate(505,402.4) scale(0.95,1)">2859</text><text transform="translate(509.6,392.4) scale(0.95,1)">2800</text><text transform="translate(558,386) scale(0.95,1)">1739</text><text transform="translate(568.4,397) scale(0.95,1)">1735</text><text transform="translate(573,408.4) scale(0.95,1)">1680</text><text transform="translate(580,418) scale(0.95,1)">1650</text><text transform="translate(594,407.4) scale(0.95,1)">1600</text><text transform="translate(602.4,351) scale(0.95,1)">1463</text><text transform="translate(609.6,363) scale(0.95,1)">1457</text><text transform="translate(606,399.6) scale(0.95,1)">1450</text><text transform="translate(633,355.6) scale(0.95,1)">1260</text><text transform="translate(656,361) scale(0.95,1)">1060</text><text transform="translate(606.4,420.4) scale(0.95,1)">1093</text><text transform="translate(627.2,417.6) scale(0.95,1)">1054</text><text transform="translate(646.6,419) scale(0.95,1)" font-size="6.8">900</text></g>
<g font-size="9.2" font-weight="bold" fill="#1a1a1a"><text transform="translate(407.8,26) scale(0.87,1)">PL</text><text transform="translate(405.4,106) scale(0.87,1)">CHOL</text><text transform="translate(403,148.5) scale(0.87,1)">Span 80</text><text transform="translate(398.4,211.4) scale(0.87,1)">Tween 80</text><text transform="translate(405,312) scale(0.87,1)">Blank niosome</text><text transform="translate(405,378) scale(0.87,1)">PL-niosome</text></g>
</svg></body></html>
